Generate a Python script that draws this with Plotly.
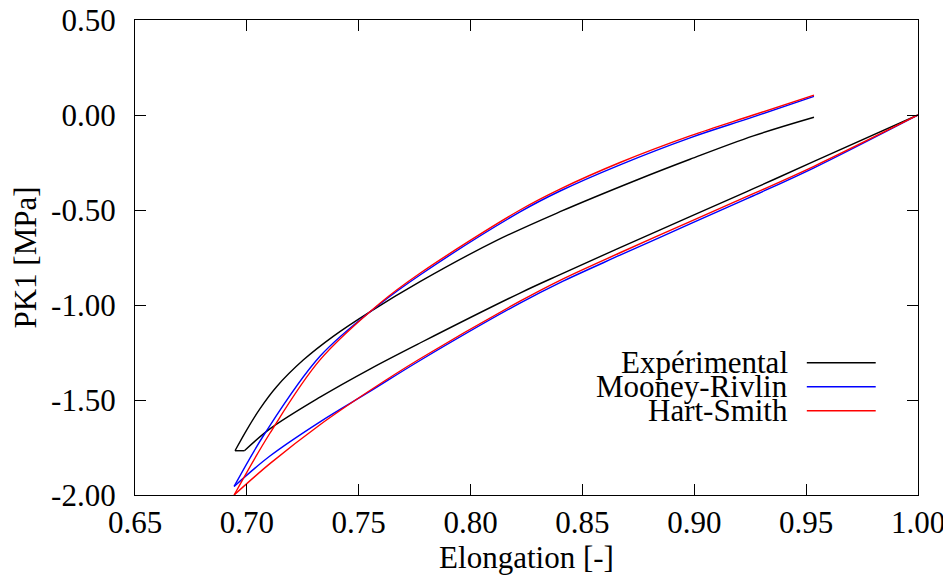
import plotly.graph_objects as go

# elongation / PK1 stress (loading branch then unloading branch)
exp_lambda = [1.000, 0.9535, 0.9264, 0.8981, 0.8668, 0.840, 0.8221, 0.7774, 0.755, 0.7327, 0.7103, 0.6989,
              0.6947, 0.6999, 0.7059, 0.7133, 0.7252, 0.7386, 0.755, 0.7774, 0.8117, 0.840, 0.8743, 0.8981,
              0.9264, 0.9535]
exp_pk1 = [0.0, -0.244, -0.388, -0.535, -0.698, -0.840, -0.937, -1.200, -1.337, -1.485, -1.652, -1.767,
           -1.767, -1.658, -1.545, -1.430, -1.290, -1.165, -1.036, -0.877, -0.660, -0.509, -0.342, -0.233,
           -0.110, -0.012]

mr_lambda = [1.000, 0.9535, 0.9264, 0.8981, 0.8668, 0.840, 0.8221, 0.7774, 0.755, 0.7327, 0.7103, 0.6943,
             0.7081, 0.7327, 0.7595, 0.7774, 0.8221, 0.840, 0.8668, 0.8981, 0.9264, 0.9535]
mr_pk1 = [0.0, -0.278, -0.425, -0.573, -0.738, -0.882, -0.990, -1.292, -1.455, -1.615, -1.795, -1.955,
          -1.675, -1.270, -0.995, -0.842, -0.510, -0.400, -0.262, -0.120, -0.010, 0.098]

hs_lambda = [1.000, 0.9535, 0.9264, 0.8981, 0.8668, 0.840, 0.8221, 0.7774, 0.755, 0.7327, 0.7103, 0.6943,
             0.7103, 0.7327, 0.7595, 0.7774, 0.8221, 0.840, 0.8668, 0.8981, 0.9264, 0.9535]
hs_pk1 = [0.0, -0.270, -0.414, -0.561, -0.725, -0.870, -0.980, -1.283, -1.450, -1.630, -1.835, -2.000,
          -1.675, -1.289, -0.991, -0.833, -0.500, -0.390, -0.250, -0.110, 0.0, 0.105]

x_ticks = [0.65, 0.70, 0.75, 0.80, 0.85, 0.90, 0.95, 1.00]
x_labels = ["0.65", "0.70", "0.75", "0.80", "0.85", "0.90", "0.95", "1.00"]
y_ticks = [-2.0, -1.5, -1.0, -0.5, 0.0, 0.5]
y_labels = ["-2.00", "-1.50", "-1.00", "-0.50", "0.00", "0.50"]

series = [
    ("Expérimental", exp_lambda, exp_pk1, "black"),
    ("Mooney-Rivlin", mr_lambda, mr_pk1, "blue"),
    ("Hart-Smith", hs_lambda, hs_pk1, "red"),
]

font = dict(family="Times New Roman", size=31, color="black")

fig = go.Figure()
for name, x, y, color in series:
    # split where the minimum is reached so each branch is smoothed on its own
    low = min(y)
    first = y.index(low)
    last = len(y) - 1 - y[::-1].index(low)
    pieces = [(0, first)]
    if last > first:
        pieces.append((first, last))  # flat step at the bottom, kept straight
    pieces.append((last, len(y) - 1))
    for a, b in pieces:
        fig.add_trace(go.Scatter(x=x[a:b + 1], y=y[a:b + 1], mode="lines", name=name,
                                 line=dict(color=color, width=1.4, shape="spline", smoothing=1.0)))

# gnuplot-style key: right-aligned label with the line sample on its right
row_y = [0.2785, 0.228, 0.1775]
for (name, _, _, color), ry in zip(series, row_y):
    fig.add_annotation(xref="paper", yref="paper", x=0.8365, y=ry, text=name,
                       showarrow=False, xanchor="right", yanchor="middle", font=font)
    fig.add_shape(type="line", xref="paper", yref="paper", x0=0.858, x1=0.946, y0=ry, y1=ry,
                  line=dict(color=color, width=1.4))

axis = dict(showline=True, linecolor="black", linewidth=1.2, mirror="ticks",
            ticks="inside", ticklen=11, tickcolor="black", showgrid=False, zeroline=False,
            tickfont=font, title_font=font, automargin=False, ticklabeloverflow="allow")

# the page body adds an 8 px offset, so the figure is 8 px smaller on each side
fig.update_layout(
    width=943, height=569,
    margin=dict(l=127, r=33, t=12, b=82),
    paper_bgcolor="white", plot_bgcolor="white",
    showlegend=False,
    font=font,
    xaxis=dict(axis, range=[0.65, 1.0], tickvals=x_ticks, ticktext=x_labels,
               title_text="Elongation [-]", title_standoff=0, ticklabelstandoff=0),
    yaxis=dict(axis, range=[-2.0, 0.5], tickvals=y_ticks, ticktext=y_labels,
               title_text="PK1 [MPa]", title_standoff=6, ticklabelstandoff=12),
)

fig.write_html("out.html")
